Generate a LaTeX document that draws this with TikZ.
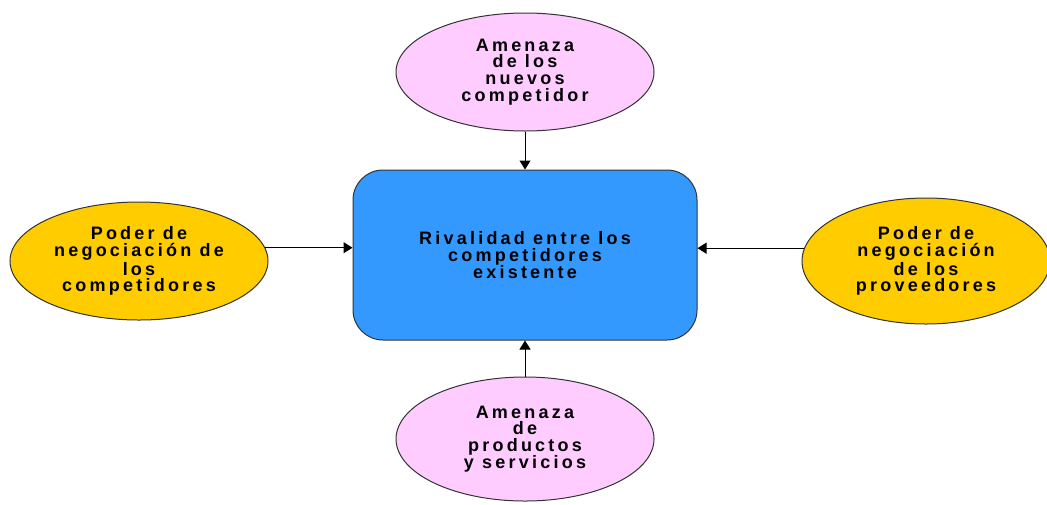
\documentclass[tikz,border=0pt]{standalone}
\usepackage{fontspec}
\newfontfamily\rotulo{Liberation Sans}[LetterSpace=18]
\usetikzlibrary{positioning,shapes.geometric,arrows.meta}
\definecolor{rosa}{HTML}{FFCCFF}
\definecolor{oro}{HTML}{FFCC00}
\definecolor{azul}{HTML}{3399FF}
\tikzset{fuerza/.style={ellipse, draw=black!80, line width=0.5pt,
    inner sep=0pt, minimum width=129pt, minimum height=59pt,
    align=center, font=\rotulo\bfseries\fontsize{9}{8.4}\selectfont},
  rival/.style={rectangle, draw=black!80, line width=0.5pt,
    rounded corners=15pt, fill=azul, minimum width=172pt,
    minimum height=85pt, align=center,
    font=\rotulo\bfseries\fontsize{9}{8.4}\selectfont},
  myarrow/.style={-{Triangle[length=4.5pt,width=5.5pt]}, line width=0.5pt}
}
\begin{document}
\begin{tikzpicture}[x=0.5pt,y=-0.5pt]
\useasboundingbox (0,0) rectangle (1047,504);

   %Rivalidad node
   \node (rivalidad) [rival] at (525,255)
   {Rivalidad entre los\\competidores\\existente};
   %Nuevos competidores node
   \node (amenazaNuevos) [fuerza, fill=rosa] at (525,72)
   {Amenaza\\de los\\nuevos\\competidor};
   %Competidores node
   \node (poderCompetidores) [fuerza, fill=oro] at (139,261)
   {Poder de\\negociación de\\los\\competidores};
   %Proveedores node
   \node (poderProveedores) [fuerza, fill=oro, minimum width=124pt,
     minimum height=63pt] at (926,261)
   {Poder de\\negociación\\de los\\proveedores};
   %Sustitutos node
   \node (amenazaProductos) [fuerza, fill=rosa, minimum height=62pt] at (525,439)
   {Amenaza\\de\\productos\\y servicios};

\draw [myarrow] (amenazaNuevos) -- (rivalidad);
\draw [myarrow] (amenazaProductos) -- (rivalidad);
\draw [myarrow] (poderCompetidores.6) -- (poderCompetidores.6 -| rivalidad.west);
\draw [myarrow] (poderProveedores.174) -- (poderProveedores.174 -| rivalidad.east);

\end{tikzpicture}
\end{document}
